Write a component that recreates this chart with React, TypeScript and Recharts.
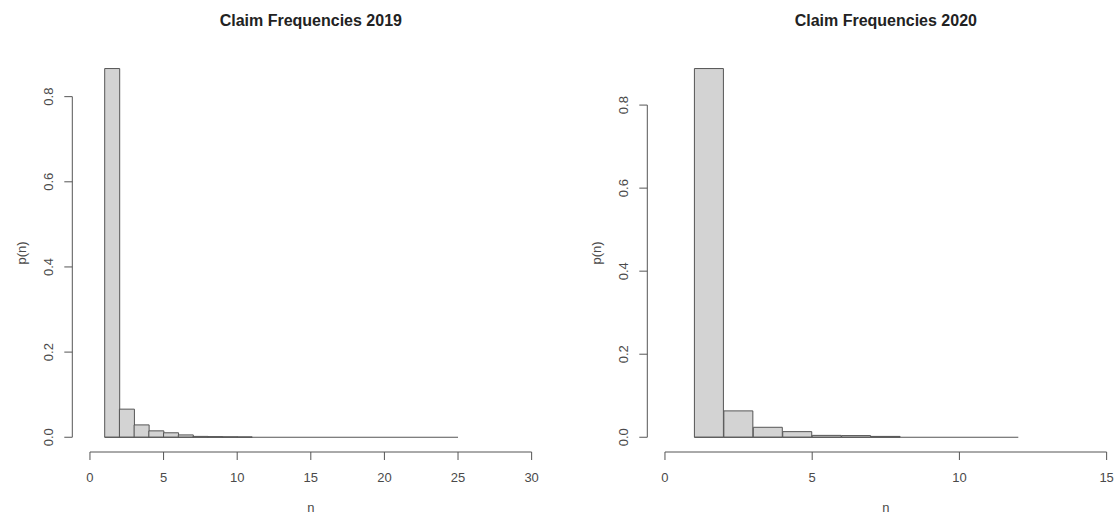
import { ComposedChart, Bar, XAxis, YAxis, ReferenceLine } from 'recharts';

// Histogram bins (lower edge n, width 1) and their relative frequencies p(n)
const bins2019 = [1, 2, 3, 4, 5, 6, 7, 8, 9, 10, 11, 12, 13, 14, 15, 16, 17, 18, 19, 20, 21, 22, 23, 24];
const p2019 = [
  0.866, 0.066, 0.029, 0.015, 0.0105, 0.0055, 0.002, 0.0015, 0.001, 0.0008,
  0, 0, 0, 0, 0, 0, 0, 0, 0, 0, 0, 0, 0, 0,
];
const xTicks2019 = [0, 5, 10, 15, 20, 25, 30];

const bins2020 = [1, 2, 3, 4, 5, 6, 7, 8, 9, 10, 11];
const p2020 = [0.888, 0.0635, 0.024, 0.0135, 0.0045, 0.004, 0.002, 0, 0, 0, 0];
const xTicks2020 = [0, 5, 10, 15];

const yTicks = [0, 0.2, 0.4, 0.6, 0.8];

const FONT = '"Liberation Sans", Arial, sans-serif';
const TEXT = '#4a4a4a';
const INK = '#555';

// panel geometry (base-graphics style: two panels side by side)
const PANEL_W = 575;
const PANEL_H = 515;
const PLOT_LEFT = 72.3;
const PLOT_W = 477;
const PLOT_TOP = 53.8;
const PLOT_BOTTOM = 452;
const TICK_LEN = 8;

const YTick = (props: any) => {
  const { x, y, payload } = props;
  const cx = x - 16;
  return (
    <text
      x={cx}
      y={y}
      transform={`rotate(-90 ${cx} ${y})`}
      textAnchor="middle"
      dominantBaseline="central"
      fill={TEXT}
      fontSize={13}
      fontFamily={FONT}
    >
      {payload.value.toFixed(1)}
    </text>
  );
};

const XTick = (props: any) => {
  const { x, y, payload } = props;
  return (
    <text x={x} y={y + 17} textAnchor="middle" dominantBaseline="central" fill={TEXT} fontSize={13} fontFamily={FONT}>
      {payload.value}
    </text>
  );
};

interface HistPanelProps {
  title: string;
  bins: number[];
  probs: number[];
  xTicks: number[];
  left: number;
}

const HistPanel = ({ title, bins, probs, xTicks, left }: HistPanelProps) => {
  const data = bins.map((b, i) => ({ mid: b + 0.5, p: probs[i] }));

  // axis ranges padded by 4% like R's default "r" style
  const pMax = Math.max(...probs);
  const yMin = -0.04 * pMax;
  const yMax = 1.04 * pMax;
  const xLo = xTicks[0];
  const xHi = xTicks[xTicks.length - 1];
  const xPad = 0.04 * (xHi - xLo);
  const xMin = xLo - xPad;
  const xMax = xHi + xPad;

  const firstEdge = bins[0];
  const lastEdge = bins[bins.length - 1] + 1;
  const centerX = PLOT_LEFT + PLOT_W / 2;

  return (
    <div style={{ position: 'absolute', left, top: 0, width: PANEL_W, height: PANEL_H }}>
      <ComposedChart
        width={PANEL_W}
        height={PANEL_H}
        data={data}
        barCategoryGap={0}
        barGap={0}
        margin={{ top: PLOT_TOP, right: PANEL_W - PLOT_LEFT - PLOT_W, bottom: 0, left: 0 }}
      >
        <XAxis
          dataKey="mid"
          type="number"
          domain={[xMin, xMax]}
          allowDataOverflow
          ticks={xTicks}
          interval={0}
          height={PANEL_H - PLOT_BOTTOM}
          axisLine={false}
          tickSize={TICK_LEN}
          tickMargin={0}
          stroke={INK}
          tick={<XTick />}
        />
        <YAxis
          type="number"
          domain={[yMin, yMax]}
          allowDataOverflow
          ticks={yTicks}
          interval={0}
          width={PLOT_LEFT}
          axisLine={false}
          tickSize={TICK_LEN}
          tickMargin={0}
          stroke={INK}
          tick={<YTick />}
        />
        <Bar dataKey="p" fill="#d3d3d3" stroke={INK} strokeWidth={1} isAnimationActive={false} />
        {/* empty bins still show as a flat line along zero */}
        <ReferenceLine
          segment={[{ x: firstEdge, y: 0 }, { x: lastEdge, y: 0 }]}
          stroke={INK}
          strokeWidth={1}
          ifOverflow="visible"
        />
        <ReferenceLine
          segment={[{ x: xMin, y: yTicks[0] }, { x: xMin, y: yTicks[yTicks.length - 1] }]}
          stroke={INK}
          strokeWidth={1}
          ifOverflow="visible"
        />
        <ReferenceLine
          segment={[{ x: xLo, y: yMin }, { x: xHi, y: yMin }]}
          stroke={INK}
          strokeWidth={1}
          ifOverflow="visible"
        />
      </ComposedChart>
      <svg
        width={PANEL_W}
        height={PANEL_H}
        style={{ position: 'absolute', left: 0, top: 0, pointerEvents: 'none' }}
      >
        <text
          x={centerX}
          y={20}
          textAnchor="middle"
          dominantBaseline="central"
          fontSize={16}
          fontWeight="bold"
          fill="#222"
          fontFamily={FONT}
        >
          {title}
        </text>
        <text
          x={22}
          y={(PLOT_TOP + PLOT_BOTTOM) / 2}
          transform={`rotate(-90 22 ${(PLOT_TOP + PLOT_BOTTOM) / 2})`}
          textAnchor="middle"
          dominantBaseline="central"
          fontSize={13}
          fill={TEXT}
          fontFamily={FONT}
        >
          p(n)
        </text>
        <text
          x={centerX}
          y={507}
          textAnchor="middle"
          dominantBaseline="central"
          fontSize={13}
          fill={TEXT}
          fontFamily={FONT}
        >
          n
        </text>
      </svg>
    </div>
  );
};

export default function App() {
  return (
    <div
      style={{
        position: 'absolute',
        left: 0,
        top: 0,
        width: 1115,
        height: 515,
        overflow: 'hidden',
        background: '#fff',
      }}
    >
      <HistPanel title="Claim Frequencies 2019" bins={bins2019} probs={p2019} xTicks={xTicks2019} left={0} />
      <HistPanel title="Claim Frequencies 2020" bins={bins2020} probs={p2020} xTicks={xTicks2020} left={PANEL_W} />
    </div>
  );
}
